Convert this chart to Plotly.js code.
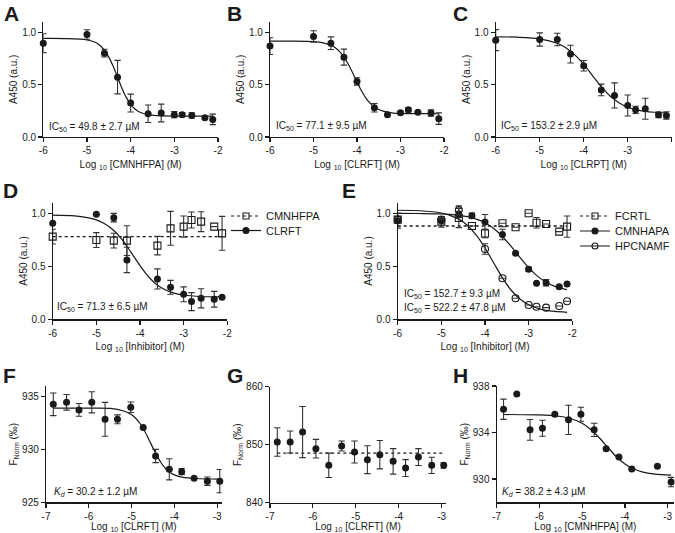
<!DOCTYPE html>
<html><head><meta charset="utf-8">
<script src="https://cdn.plot.ly/plotly-3.0.1.min.js"></script>
<style>html,body{margin:0;padding:0;background:#fff}#chart{width:675px;height:533px}</style>
</head><body><div id="chart"></div>
<script>
// ---------- Data ----------
// Panel A: CMNHFPA
const xA = [-6,-5,-4.6,-4.3,-4,-3.6,-3.3,-3,-2.82,-2.6,-2.3,-2.12];
const yA = [0.895,0.978,0.80,0.571,0.324,0.222,0.229,0.213,0.213,0.206,0.184,0.168];
const eA = [0.09,0.045,0.037,0.16,0.085,0.083,0.085,0.03,0.02,0.025,0.01,0.05];
const fitXA = [-6,-5.5,-5,-4.8,-4.7,-4.6,-4.5,-4.4,-4.3,-4.2,-4.1,-4,-3.9,-3.8,-3.6,-3.4,-3,-2.5,-2.12];
const fitYA = [0.94,0.939,0.927,0.901,0.873,0.828,0.762,0.674,0.57,0.466,0.378,0.312,0.267,0.239,0.213,0.204,0.2,0.2,0.2];
// Panel B: CLRFT
const xB = [-6,-5,-4.6,-4.3,-4,-3.6,-3.3,-3,-2.82,-2.6,-2.3,-2.12];
const yB = [0.867,0.959,0.895,0.762,0.530,0.279,0.213,0.232,0.260,0.235,0.229,0.175];
const eB = [0.08,0.055,0.06,0.076,0.035,0.04,0,0.015,0.02,0.01,0.03,0.055];
const fitXB = [-6,-5.5,-5,-4.8,-4.6,-4.5,-4.4,-4.3,-4.2,-4.1,-4,-3.9,-3.8,-3.7,-3.6,-3.5,-3.4,-3.2,-3,-2.5,-2.12];
const fitYB = [0.915,0.914,0.909,0.900,0.875,0.851,0.815,0.763,0.694,0.612,0.525,0.443,0.374,0.323,0.286,0.262,0.247,0.231,0.226,0.223,0.222];
// Panel C: CLRPT
const xC = [-6,-5,-4.6,-4.3,-4,-3.6,-3.3,-3,-2.82,-2.6,-2.3,-2.12];
const yC = [0.924,0.930,0.930,0.791,0.680,0.449,0.396,0.301,0.259,0.269,0.212,0.206];
const eC = [0.1,0.063,0.06,0.085,0.05,0.055,0.12,0.1,0.035,0.1,0.027,0.035];
const fitXC = [-6,-5.5,-5,-4.6,-4.4,-4.2,-4,-3.8,-3.6,-3.4,-3.2,-3,-2.8,-2.6,-2.4,-2.12];
const fitYC = [0.956,0.952,0.937,0.894,0.850,0.783,0.693,0.586,0.480,0.391,0.327,0.284,0.259,0.244,0.236,0.230];
// Panel D: CMNHFPA (open squares) and CLRFT (filled)
const xD = [-6,-5,-4.6,-4.3,-3.6,-3.3,-3,-2.82,-2.6,-2.3,-2.12];
const yD_CLRFT = [0.906,0.991,0.959,0.560,0.381,0.302,0.236,0.167,0.198,0.189,0.208];
const eD_CLRFT = [0,0,0.04,0.12,0.095,0.065,0.07,0.085,0.09,0.074,0];
const yD_CMNHFPA = [0.780,0.748,0.742,0.742,0.695,0.858,0.874,0.937,0.921,0.874,0.811];
const eD_CMNHFPA = [0.07,0.07,0.07,0.14,0.087,0.16,0.1,0.075,0.094,0,0.16];
const meanXD = [-6,-2.12];
const meanYD = [0.78,0.78];
const fitXD = [-6,-5.5,-5,-4.8,-4.6,-4.4,-4.3,-4.2,-4,-3.8,-3.6,-3.4,-3.2,-3,-2.6,-2.12];
const fitYD = [0.983,0.975,0.938,0.900,0.838,0.746,0.689,0.629,0.506,0.399,0.322,0.274,0.245,0.229,0.215,0.211];
// Panel E: FCRTL (open squares), CMNHAPA (filled), HPCNAMF (open circles)
const xE = [-6,-5,-4.6,-4.3,-4,-3.6,-3.3,-3,-2.82,-2.6,-2.3,-2.12];
const yE_FCRTL = [0.94,0.92,0.955,0.88,0.81,0.906,0.868,1.0,0.911,0.899,0.827,0.874];
const eE_FCRTL = [0.06,0.05,0.09,0,0.04,0,0,0,0.05,0,0,0.1];
const yE_CMNHAPA = [0.93,0.93,0.99,0.977,0.918,0.80,0.623,0.472,0.34,0.345,0.308,0.333];
const eE_CMNHAPA = [0.07,0.04,0.03,0.025,0.07,0.05,0,0.02,0,0.03,0,0];
const xE_HPCNAMF = [-6,-5,-4.6,-4,-3.6,-3.3,-3,-2.82,-2.6,-2.3,-2.12];
const yE_HPCNAMF = [0.94,0.94,1.03,0.663,0.387,0.198,0.135,0.119,0.11,0.125,0.17];
const eE_HPCNAMF = [0,0,0.04,0.05,0,0,0,0,0,0,0];
const meanXE = [-6,-2.12];
const meanYE = [0.88,0.88];
const fitXE = [-6,-5.5,-5,-4.8,-4.6,-4.4,-4.2,-4,-3.8,-3.6,-3.4,-3.2,-3,-2.8,-2.6,-2.4,-2.12];
const fitYE_CMNHAPA = [1.0,0.998,0.994,0.989,0.981,0.968,0.945,0.91,0.856,0.781,0.687,0.584,0.487,0.407,0.35,0.311,0.279];
const fitYE_HPCNAMF = [1.029,1.024,1.003,0.981,0.945,0.885,0.794,0.673,0.531,0.391,0.274,0.191,0.137,0.104,0.084,0.074,0.066];
// Panel F: MST CLRFT
const xF = [-6.83,-6.52,-6.23,-5.93,-5.62,-5.33,-5.02,-4.73,-4.44,-4.12,-3.83,-3.54,-3.23,-2.94];
const yF = [934.27,934.46,933.74,934.46,932.85,932.85,933.99,932.07,929.38,928.12,927.90,927.27,927.0,927.0];
const eF = [1.07,0.74,0.6,1.0,1.6,0.42,0.5,0,0.63,1.0,0.3,0,0.4,1.1];
const fitXF = [-6.83,-6,-5.5,-5.2,-5,-4.9,-4.8,-4.7,-4.6,-4.5,-4.4,-4.3,-4.2,-4.1,-4,-3.8,-3.5,-2.94];
const fitYF = [933.9,933.9,933.88,933.66,933.28,932.93,932.43,931.76,930.97,930.13,929.34,928.67,928.17,927.82,927.59,927.35,927.25,927.2];
// Panel G: MST CLRFT (control)
const xG = [-6.83,-6.53,-6.24,-5.93,-5.63,-5.33,-5.03,-4.73,-4.44,-4.13,-3.84,-3.54,-3.23,-2.95];
const yG = [850.46,850.46,852.18,849.31,846.44,849.77,848.74,847.41,848.28,847.13,845.98,847.87,846.44,846.44];
const eG = [2.45,1.9,4.4,1.6,2.1,0.86,1.9,2.4,2.45,2.2,1.45,1.45,1.4,0.5];
const meanXG = [-6.83,-2.95];
const meanYG = [848.56,848.56];
// Panel H: MST CMNHFPA
const xH = [-6.84,-6.53,-6.22,-5.93,-5.64,-5.32,-5.03,-4.72,-4.44,-4.14,-3.84,-3.24,-2.92];
const yH = [936.0,937.31,934.23,934.37,935.57,935.09,935.57,934.23,932.6,931.89,930.86,931.09,929.74];
const eH = [0.87,0,0.89,0.69,0,1.26,0.6,0.57,0,0,0,0,0.4];
const fitXH = [-6.84,-6,-5.6,-5.3,-5,-4.8,-4.6,-4.4,-4.2,-4,-3.8,-3.6,-3.3,-2.92];
const fitYH = [935.55,935.51,935.42,935.23,934.79,934.26,933.55,932.72,931.92,931.30,930.88,930.62,930.43,930.34];

// Tick labels
const ticksIC = [-6,-5,-4,-3,-2];
const ticksICText = ['-6','-5','-4','-3','-2'];
const ticksMST = [-7,-6,-5,-4,-3];
const ticksMSTText = ['-7','-6','-5','-4','-3'];
const yTicksA450 = [0,0.5,1];
const yTicksA450Text = ['0.0','0.5','1.0'];

// ---------- Styling helpers ----------
const FONT = 'Liberation Sans, Arial, Helvetica, sans-serif';
const INK = '#1a1a1a';
const W = 675, H = 533;
const dx = (a,b) => [a/W, b/W];
const dy = (top,bottom) => [1-bottom/H, 1-top/H];

function errs(arr){ return {type:'data', array:arr, visible:true, color:'#333', thickness:1.1, width:3.2}; }
function filled(x,y,e,ax,name){
  return {x:x,y:y,type:'scatter',mode:'markers',xaxis:'x'+ax,yaxis:'y'+ax,name:name,showlegend:false,cliponaxis:false,
    marker:{symbol:'circle',size:7,color:INK},error_y:errs(e)};
}
function openSq(x,y,e,ax,name){
  return {x:x,y:y,type:'scatter',mode:'markers',xaxis:'x'+ax,yaxis:'y'+ax,name:name,showlegend:false,cliponaxis:false,
    marker:{symbol:'square-open',size:7,color:INK,line:{width:1.1}},error_y:errs(e)};
}
function openCi(x,y,e,ax,name){
  return {x:x,y:y,type:'scatter',mode:'markers',xaxis:'x'+ax,yaxis:'y'+ax,name:name,showlegend:false,cliponaxis:false,
    marker:{symbol:'circle-open',size:7,color:INK,line:{width:1.1}},error_y:errs(e)};
}
function fit(x,y,ax){
  return {x:x,y:y,type:'scatter',mode:'lines',xaxis:'x'+ax,yaxis:'y'+ax,showlegend:false,hoverinfo:'skip',cliponaxis:false,
    line:{color:INK,width:1.2,shape:'spline',smoothing:0.8}};
}
function mean(x,y,ax){
  return {x:x,y:y,type:'scatter',mode:'lines',xaxis:'x'+ax,yaxis:'y'+ax,showlegend:false,hoverinfo:'skip',
    line:{color:INK,width:1.3,dash:'dot'}};
}
function legendItem(name,symbol,dash,ax,leg){
  return {x:[null],y:[null],type:'scatter',mode:'lines+markers',xaxis:'x'+ax,yaxis:'y'+ax,name:name,legend:leg,showlegend:true,
    marker:{symbol:symbol,size:6,color:INK,line:{width:1.1,color:INK}},line:{color:INK,width:1.2,dash:dash}};
}

const data = [
  fit(fitXA,fitYA,''), filled(xA,yA,eA,'','CMNHFPA'),
  fit(fitXB,fitYB,'2'), filled(xB,yB,eB,'2','CLRFT'),
  fit(fitXC,fitYC,'3'), filled(xC,yC,eC,'3','CLRPT'),
  mean(meanXD,meanYD,'4'), fit(fitXD,fitYD,'4'),
  openSq(xD,yD_CMNHFPA,eD_CMNHFPA,'4','CMNHFPA'), filled(xD,yD_CLRFT,eD_CLRFT,'4','CLRFT'),
  legendItem('CMNHFPA','square-open','dot','4','legend'),
  legendItem('CLRFT','circle','solid','4','legend2'),
  mean(meanXE,meanYE,'5'), fit(fitXE,fitYE_CMNHAPA,'5'), fit(fitXE,fitYE_HPCNAMF,'5'),
  openSq(xE,yE_FCRTL,eE_FCRTL,'5','FCRTL'), filled(xE,yE_CMNHAPA,eE_CMNHAPA,'5','CMNHAPA'),
  openCi(xE_HPCNAMF,yE_HPCNAMF,eE_HPCNAMF,'5','HPCNAMF'),
  legendItem('FCRTL','square-open','dot','5','legend3'),
  legendItem('CMNHAPA','circle','solid','5','legend4'),
  legendItem('HPCNAMF','circle-open','solid','5','legend5'),
  fit(fitXF,fitYF,'6'), filled(xF,yF,eF,'6','CLRFT'),
  mean(meanXG,meanYG,'7'), filled(xG,yG,eG,'7','CLRFT'),
  fit(fitXH,fitYH,'8'), filled(xH,yH,eH,'8','CMNHFPA')
];

const tickFont = {family:FONT,size:10,color:INK};
const titleFont = {family:FONT,size:10,color:INK};
function xax(dom,range,tv,tt,title,anchor){
  return {domain:dom,range:range,anchor:anchor,showgrid:false,zeroline:false,showline:true,linecolor:INK,linewidth:1.2,
    ticks:'outside',ticklen:4,tickwidth:1.2,tickcolor:INK,tickvals:tv,ticktext:tt,tickfont:tickFont,
    title:{text:title,font:titleFont,standoff:5},fixedrange:true};
}
function yax(dom,range,tv,tt,title,anchor){
  return {domain:dom,range:range,anchor:anchor,showgrid:false,zeroline:false,showline:true,linecolor:INK,linewidth:1.2,
    ticks:'outside',ticklen:4,tickwidth:1.2,tickcolor:INK,tickvals:tv,ticktext:tt,tickfont:tickFont,
    title:{text:title,font:titleFont,standoff:2},fixedrange:true};
}
function leg(xPx,itemYPx){
  return {x:xPx/W,y:1-(itemYPx-12.5)/H,xanchor:'left',yanchor:'top',bgcolor:'rgba(0,0,0,0)',
    font:{family:FONT,size:11,color:INK},itemwidth:30,borderwidth:0};
}
function letter(t,xPx,yPx){
  return {text:'<b>'+t+'</b>',x:xPx/W,y:1-yPx/H,xref:'paper',yref:'paper',xanchor:'left',yanchor:'middle',showarrow:false,
    font:{family:FONT,size:21,color:INK}};
}
function note(t,xPx,yPx){
  return {text:t,x:xPx/W,y:1-yPx/H,xref:'paper',yref:'paper',xanchor:'left',yanchor:'middle',showarrow:false,
    font:{family:FONT,size:10,color:INK}};
}
const A450 = 'A450 (a.u.)';
const FN = 'F<sub>Norm</sub> (‰)';

const layout = {
  width:W,height:H,margin:{l:0,r:0,t:0,b:0},paper_bgcolor:'#fff',plot_bgcolor:'rgba(0,0,0,0)',
  font:{family:FONT,size:10,color:INK},
  xaxis: xax(dx(43.3,218),[-6,-2],ticksIC,ticksICText,'Log <sub>10</sub> [CMNHFPA] (M)','y'),
  yaxis: yax(dy(21.7,137),[0,1.1],yTicksA450,yTicksA450Text,A450,'x'),
  xaxis2: xax(dx(270,444),[-6,-2],ticksIC,ticksICText,'Log <sub>10</sub> [CLRFT] (M)','y2'),
  yaxis2: yax(dy(21.7,137),[0,1.1],yTicksA450,yTicksA450Text,A450,'x2'),
  xaxis3: xax(dx(495.7,671.7),[-6,-2],ticksIC,ticksICText,'Log <sub>10</sub> [CLRPT] (M)','y3'),
  yaxis3: yax(dy(21.7,137),[0,1.1],yTicksA450,yTicksA450Text,A450,'x3'),
  xaxis4: xax(dx(52.7,227.3),[-6,-2],ticksIC,ticksICText,'Log <sub>10</sub> [Inhibitor] (M)','y4'),
  yaxis4: yax(dy(202.7,319.3),[0,1.1],yTicksA450,yTicksA450Text,A450,'x4'),
  xaxis5: xax(dx(397.7,572.3),[-6,-2],ticksIC,ticksICText,'Log <sub>10</sub> [Inhibitor] (M)','y5'),
  yaxis5: yax(dy(202.7,319.3),[0,1.1],yTicksA450,yTicksA450Text,A450,'x5'),
  xaxis6: xax(dx(46,221.5),[-7,-2.9],ticksMST,ticksMSTText,'Log <sub>10</sub> [CLRFT] (M)','y6'),
  yaxis6: yax(dy(386,502.3),[925,936],[925,930,935],['925','930','935'],FN,'x6'),
  xaxis7: xax(dx(270,445.9),[-7,-2.9],ticksMST,ticksMSTText,'Log <sub>10</sub> [CLRFT] (M)','y7'),
  yaxis7: yax(dy(386.7,502.7),[840,860],[840,850,860],['840','850','860'],FN,'x7'),
  xaxis8: xax(dx(496.7,674.1),[-7,-2.85],ticksMST,ticksMSTText,'Log <sub>10</sub> [CMNHFPA] (M)','y8'),
  yaxis8: yax(dy(386,502.3),[928,938],[930,934,938],['930','934','938'],FN,'x8'),
  legend: leg(226,214),
  legend2: leg(226,228.5),
  legend3: leg(575,214),
  legend4: leg(575,229),
  legend5: leg(575,244),
  annotations:[
    letter('A',2,13), letter('B',225,13), letter('C',451,13),
    letter('D',1,190), letter('E',340,190),
    letter('F',1,375), letter('G',225,375), letter('H',451,375),
    note('IC<sub>50</sub> = 49.8 ± 2.7 µM',47,126.5),
    note('IC<sub>50</sub> = 77.1 ± 9.5 µM',274,126),
    note('IC<sub>50</sub> = 153.2 ± 2.9 µM',499,126),
    note('IC<sub>50</sub> = 71.3 ± 6.5 µM',55,307),
    note('IC<sub>50</sub> = 152.7 ± 9.3 µM',402,294),
    note('IC<sub>50</sub> = 522.2 ± 47.8 µM',402,307.5),
    note('<i>K<sub>d</sub></i> = 30.2 ± 1.2 µM',52,491.5),
    note('<i>K<sub>d</sub></i> = 38.2 ± 4.3 µM',500,491.5)
  ]
};

Plotly.newPlot('chart', data, layout, {staticPlot:true, displayModeBar:false});
</script>
</body></html>
